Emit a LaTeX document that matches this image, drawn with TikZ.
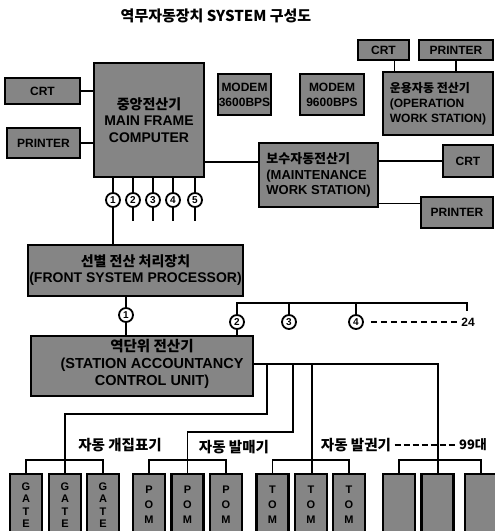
\documentclass[tikz,border=0pt]{standalone}
\usepackage{fontspec}
\setmainfont{Liberation Sans}
\newfontfamily\kr{Noto Sans CJK KR}
\usetikzlibrary{calc}
\begin{document}
\begin{tikzpicture}[x=1pt,y=-1pt,
  box/.style={draw, line width=2.6pt, fill=black!48, inner sep=0pt, align=center,
    font=\bfseries\fontsize{12}{15}\selectfont},
  unit/.style={box, minimum width=32pt, minimum height=62pt, font=\bfseries\fontsize{11}{12.5}\selectfont},
  wire/.style={line width=1.9pt},
  num/.style={draw, circle, line width=1.8pt, fill=white, inner sep=0pt, minimum size=14pt,
    font=\bfseries\fontsize{10}{10}\selectfont},
  lab/.style={font=\kr\bfseries\fontsize{14.5}{14.5}\selectfont}]
\useasboundingbox (0,0) rectangle (495,531);

% title
\node[font=\kr\bfseries\fontsize{15}{15}\selectfont] (title) at (216,16) {역무자동장치 SYSTEM 구성도};

% top row
\node[box, minimum width=51pt, minimum height=20pt] (crtTR) at (383.5,50) {CRT};
\node[box, minimum width=74pt, minimum height=20pt] (prtTR) at (456,50) {PRINTER};
\node[box, minimum width=110pt, minimum height=63pt, align=left] (ows) at (438,103.5)
  {{\kr 운용자동 전산기}\\(OPERATION\\WORK STATION)};
\node[box, minimum width=53pt, minimum height=41pt] (modA) at (244.5,94.5) {MODEM\\3600BPS};
\node[box, minimum width=64pt, minimum height=41pt] (modB) at (332,94.5) {MODEM\\9600BPS};
\node[box, minimum width=110pt, minimum height=114pt, font=\bfseries\fontsize{14}{16.5}\selectfont] (mf) at (149,120)
  {{\kr 중앙전산기}\\MAIN FRAME\\COMPUTER};
\node[box, minimum width=75pt, minimum height=26pt] (crtL) at (42.5,91) {CRT};
\node[box, minimum width=73pt, minimum height=30pt] (prtL) at (43.5,143) {PRINTER};
\node[box, minimum width=119pt, minimum height=64pt, align=left, font=\bfseries\fontsize{13}{15.5}\selectfont] (mws) at (318.5,175)
  {{\kr 보수자동전산기}\\(MAINTENANCE\\WORK STATION)};
\node[box, minimum width=50pt, minimum height=32pt] (crtR) at (468,161) {CRT};
\node[box, minimum width=72pt, minimum height=31pt] (prtR) at (457,212.5) {PRINTER};
\node[box, minimum width=215pt, minimum height=51pt, font=\bfseries\fontsize{14}{16}\selectfont] (fsp) at (135.5,270.5)
  {{\kr 선별 전산 처리장치}\\(FRONT SYSTEM PROCESSOR)};
\node[box, minimum width=222pt, minimum height=60pt] (sacu) at (142,366) {};
\node[font=\bfseries\fontsize{14.5}{17}\selectfont, align=center] (sacut) at (152,364)
  {{\kr 역단위 전산기}\\(STATION ACCOUNTANCY\\CONTROL UNIT)};

% connections top
\draw[wire] ([xshift=11pt]crtTR.south) -- ([xshift=11pt]crtTR.south |- ows.north);
\draw[wire] (prtTR.south) -- (prtTR.south |- ows.north);
\draw[wire] (crtL.east) -- (crtL.east -| mf.west);
\draw[wire] (prtL.east) -- (prtL.east -| mf.west);
\draw[wire] ([yshift=13pt]mws.west) -- ([yshift=13pt]mws.west -| mf.east);
\draw[wire] (crtR.west) -- (crtR.west -| mws.east);
\draw[wire] ([yshift=9pt]prtR.west) -- ([yshift=9pt]prtR.west -| mws.east);

% mainframe ports
\foreach \i/\x in {1/113,2/133,3/153,4/173,5/195}{
  \node[num] (c\i) at (\x,200) {\i};
  \draw[wire] (c\i.north) -- (c\i.north |- mf.south);
}
\foreach \i in {2,3,4,5}{ \draw[wire] (c\i.south) -- ++(0,13); }
\draw[wire] (c1.south) -- (c1.south |- fsp.north);

% front processor to station
\node[num] (d1) at (126,315) {1};
\draw[wire] (d1.north) -- (d1.north |- fsp.south);
\draw[wire] (d1.south) -- (d1.south |- sacu.north);

% lines 2..24
\coordinate (bl) at (237,303);
\coordinate (br) at (467,303);
\node[num] (e2) at (237,322) {2};
\node[num] (e3) at (289,322) {3};
\node[num] (e4) at (356,322) {4};
\node[font=\bfseries\fontsize{12}{12}\selectfont] (n24) at (468,322) {24};
\draw[wire] (e2.north) -- (bl) -- (br) -- ++(0,8);
\draw[wire] (e3.north) -- (e3.north |- bl);
\draw[wire] (e4.north) -- (e4.north |- bl);
\draw[wire] (e2.south) -- (e2.south |- sacu.north);
\draw[wire, dash pattern=on 6pt off 4pt] ([xshift=7pt]e4.east) -- (n24.west);

% terminals
\foreach \n/\x/\t in {g1/26/{G\\A\\T\\E}, g2/65/{G\\A\\T\\E}, g3/103/{G\\A\\T\\E}}{
  \node[unit] (\n) at (\x,505) {\t};
}
\foreach \n/\x/\t in {p1/149/{P\\O\\M}, p2/187.5/{P\\O\\M}, p3/226/{P\\O\\M},
                      t1/272.5/{T\\O\\M}, t2/311/{T\\O\\M}, t3/349/{T\\O\\M}}{
  \node[unit, font=\bfseries\fontsize{11}{15}\selectfont] (\n) at (\x,505) {\t};
}
\foreach \n/\x in {q1/399, q2/437.5, q3/481}{
  \node[unit] (\n) at (\x,505) {};
}

% group brackets
\foreach \a/\c in {g1/g3, p1/p3, t1/t3, q1/q3}{
  \draw[wire] (\a.north) -- ++(0,-13) -| (\c.north);
}

% station trunk
\coordinate (tr) at (438,364);
\draw[wire] (sacu.east |- tr) -- (tr) -- (tr |- q2.north);
\coordinate (v1) at (267,364);
\coordinate (v2) at (293,364);
\coordinate (v3) at (312,364);
\draw[wire] (v1) -- ++(0,50) -| (g2.north);
\draw[wire] (v2) -- ++(0,68) -| (p2.north);
\draw[wire] (v3) -- (v3 |- t2.north);

% labels
\node[lab] (lg) at (120,445) {자동 개집표기};
\node[lab] (lp) at (234,447) {자동 발매기};
\node[lab] (lt) at (356,445) {자동 발권기};
\node[font=\kr\bfseries\fontsize{13}{13}\selectfont] (l99) at (473,445) {99대};
\draw[wire, dash pattern=on 6pt off 3pt] (lt.east) -- (l99.west);
\end{tikzpicture}
\end{document}
